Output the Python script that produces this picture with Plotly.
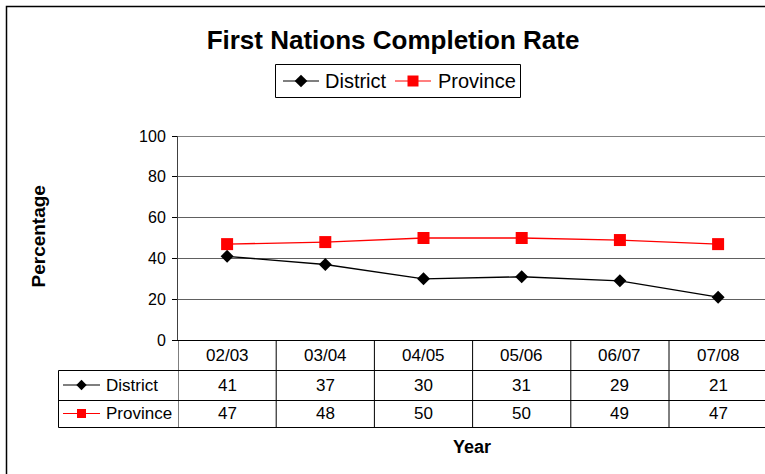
import plotly.graph_objects as go

# ---- data ----
years = ["02/03", "03/04", "04/05", "05/06", "06/07", "07/08"]
district = [41, 37, 30, 31, 29, 21]
province = [47, 48, 50, 50, 49, 47]
y_ticks = [0, 20, 40, 60, 80, 100]
series_names = ["District", "Province"]
series_colors = ["black", "#FF0000"]
series_symbols = ["diamond", "square"]

W, H = 765, 474
L, R, T, B = 178, 0, 136, 134          # plot area 178..765 x 136..340
PW, PH = W - L - R, H - T - B
CAT_W = 98.2                           # pixel width of one category column
FONT = "Liberation Sans, Arial, sans-serif"


def px(x):   # pixel x -> paper x
    return (x - L) / PW


def py(y):   # pixel y -> paper y
    return (H - B - y) / PH


fig = go.Figure()
for vals, name, col, sym, size in ((district, series_names[0], series_colors[0], series_symbols[0], 10),
                                   (province, series_names[1], series_colors[1], series_symbols[1], 12)):
    fig.add_trace(go.Scatter(x=list(range(len(years))), y=vals, name=name,
                             mode="lines+markers",
                             line=dict(color=col, width=1.3),
                             marker=dict(symbol=sym, size=size, color=col)))

shapes = []
ann = []


def text(x, y, s, size, xref="paper", xanchor="center", bold=False, angle=0):
    ann.append(dict(x=x, y=y, xref=xref, yref="paper", text=f"<b>{s}</b>" if bold else s,
                    xanchor=xanchor, yanchor="middle", showarrow=False, textangle=angle,
                    font=dict(size=size, color="black", family=FONT)))


def key(cx, cy, col, sym, half_line=18, r=5.5):
    """legend key: short line with a marker in the middle (pixel coords)."""
    shapes.append(dict(type="line", xref="paper", yref="paper",
                       x0=px(cx - half_line), x1=px(cx + half_line), y0=py(cy), y1=py(cy),
                       line=dict(color=col, width=1.2)))
    if sym == "diamond":
        rd = r * 1.15
        path = (f"M {px(cx - rd)} {py(cy)} L {px(cx)} {py(cy - rd)} "
                f"L {px(cx + rd)} {py(cy)} L {px(cx)} {py(cy + rd)} Z")
        shapes.append(dict(type="path", xref="paper", yref="paper", path=path,
                           fillcolor=col, line=dict(color=col, width=0)))
    else:
        shapes.append(dict(type="rect", xref="paper", yref="paper",
                           x0=px(cx - r), x1=px(cx + r), y0=py(cy + r), y1=py(cy - r),
                           fillcolor=col, line=dict(color=col, width=0)))


# top gridline at 100 in black
shapes.append(dict(type="line", xref="paper", yref="y", x0=0, x1=1, y0=100, y1=100,
                   line=dict(color="black", width=1)))

# ---- legend box ----
shapes.append(dict(type="rect", xref="paper", yref="paper",
                   x0=px(275.5), x1=px(520.5), y0=py(97.5), y1=py(64.5),
                   line=dict(color="black", width=1), fillcolor="white"))
for cx, tx, name, col, sym in ((301, 323, series_names[0], series_colors[0], series_symbols[0]),
                               (413, 436, series_names[1], series_colors[1], series_symbols[1])):
    key(cx, 81, col, sym)
    text(px(tx), py(81), name, 20, xanchor="left")

# ---- data table ----
row_header = 355.5
row_d = 385
row_p = 413.5
table_bottom = 427.5
label_left = 58.5

for yy in (370.5, 400.5, table_bottom):
    shapes.append(dict(type="line", xref="paper", yref="paper",
                       x0=px(label_left), x1=1.05, y0=py(yy), y1=py(yy),
                       line=dict(color="black", width=1)))
for i in range(len(years) + 1):
    shapes.append(dict(type="line", xref="x", yref="paper",
                       x0=i - 0.5, x1=i - 0.5, y0=0, y1=py(table_bottom),
                       line=dict(color="black", width=1)))
shapes.append(dict(type="line", xref="paper", yref="paper",
                   x0=px(label_left), x1=px(label_left), y0=py(370.5), y1=py(table_bottom),
                   line=dict(color="black", width=1)))

for i, yr in enumerate(years):
    for yy, txt in ((row_header, yr), (row_d, str(district[i])), (row_p, str(province[i]))):
        text(i, py(yy), txt, 17, xref="x")

for yy, name, col, sym in ((row_d, series_names[0], series_colors[0], series_symbols[0]),
                           (row_p, series_names[1], series_colors[1], series_symbols[1])):
    key(81.5, yy, col, sym, half_line=18.5, r=4.5)
    text(px(104), py(yy), name, 17, xanchor="left")

# axis titles
text(px(38), py(236.5), "Percentage", 19, bold=True, angle=-90)
text(px(472), py(447), "Year", 18, bold=True)

# outer border (extends beyond the picture on right and bottom)
shapes.append(dict(type="rect", xref="paper", yref="paper",
                   x0=px(6.5), x1=px(W + 20), y0=py(H + 20), y1=py(6.5),
                   line=dict(color="black", width=1.5), layer="below"))

fig.update_layout(
    width=W, height=H,
    margin=dict(l=L, r=R, t=T, b=B, autoexpand=False),
    paper_bgcolor="white", plot_bgcolor="white",
    title=dict(text="<b>First Nations Completion Rate</b>", x=393 / W, xanchor="center",
               xref="container", yref="container", y=1 - 40 / H, yanchor="middle",
               font=dict(size=26, color="black", family=FONT)),
    showlegend=False,
    xaxis=dict(type="linear", range=[-0.5, -0.5 + PW / CAT_W], showticklabels=False,
               showgrid=False, zeroline=False, showline=True, linecolor="black",
               linewidth=1, ticks="", automargin=False),
    yaxis=dict(range=[0, 100], tickvals=y_ticks, showline=True, linecolor="#404040",
               linewidth=1, ticks="outside", ticklen=5, tickcolor="black",
               ticklabelstandoff=3,
               gridcolor="#606060", gridwidth=1, zeroline=False, automargin=False,
               tickfont=dict(size=16, color="black", family=FONT)),
    shapes=shapes, annotations=ann,
)

fig.write_html("out.html", config={"displayModeBar": False},
               post_script="document.body.style.margin='0';document.body.style.overflow='hidden';")
